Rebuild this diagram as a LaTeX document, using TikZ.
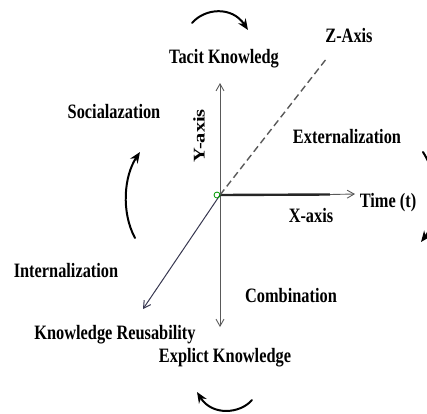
\documentclass[tikz,border=0pt]{standalone}
\usepackage{fontspec}
\setmainfont{Liberation Serif}
\usetikzlibrary{arrows.meta}
\newcommand\cond[1]{\scalebox{0.8}[1]{#1}}
\definecolor{diagc}{RGB}{55,55,80}
\tikzset{
  lbl/.style={font=\fontsize{20.5}{24}\selectfont\bfseries, inner sep=0pt, anchor=base},
  axisline/.style={draw=black!65, line width=0.9pt},
  tipopen/.style={-{Straight Barb[length=7pt,width=8pt]}},
  turn/.style={draw=black, line width=2pt, line cap=round, -{Stealth[length=11pt,width=9pt]}}
}
\begin{document}
\begin{tikzpicture}[x=1bp,y=-1bp]
\useasboundingbox (0,0) rectangle (427,414);
\clip (0,0) rectangle (427,414);
% axis points
\coordinate (O) at (220,195);
\coordinate (ytop) at (220,83);
\coordinate (ybot) at (220,327);
\coordinate (xend) at (355,194);
\coordinate (zend) at (327,58);
\coordinate (dend) at (143,309);
% axes
\draw[axisline, tipopen] (O) -- (ytop);
\draw[axisline, tipopen] (O) -- (ybot);
\draw[draw=black!85, line width=2.4pt] (O) -- (330,194.5) coordinate (xmid);
\draw[axisline, tipopen] (xmid) -- (xend);
\draw[draw=black!65, line width=1.4pt, dash pattern=on 7pt off 4pt] (O) -- (zend);
\draw[draw=diagc, line width=1pt, tipopen] (O) -- (dend);
\node[circle, draw=green!60!black, line width=0.8pt, minimum size=6pt, inner sep=0pt] (og) at (217,195) {};
% labels
\node[lbl] (tacit) at (224,63) {\cond{Tacit Knowledg}};
\node[lbl] (zax) at (349,42) {\cond{Z-Axis}};
\node[lbl] (soc) at (114,118) {\cond{Socialazation}};
\node[lbl] (ext) at (347,143) {\cond{Externalization}};
\node[lbl] (time) at (388,207) {\cond{Time (t)}};
\node[lbl] (xax) at (311,222) {\cond{X-axis}};
\node[lbl] (int) at (66,277) {\cond{Internalization}};
\node[lbl] (comb) at (291,302) {\cond{Combination}};
\node[lbl] (reuse) at (115,339) {\cond{Knowledge Reusability}};
\node[lbl] (expl) at (225,362) {\cond{Explict Knowledge}};
\node[font=\fontsize{20.5}{24}\selectfont\bfseries, inner sep=0pt, rotate=90] (yax) at (199,136) {\scalebox{1}[0.8]{Y-axis}};
% rotation arrows
\coordinate (t1) at (192,23); \coordinate (t2) at (248,30);
\draw[turn] (t1) .. controls (205,8) and (232,6) .. (t2);
\coordinate (l1) at (135,238); \coordinate (l2) at (140,152);
\draw[turn] (l1) .. controls (121,212) and (124,176) .. (l2);
\coordinate (b1) at (252,400); \coordinate (b2) at (197,392);
\draw[turn] (b1) .. controls (240,414) and (212,416) .. (b2);
\coordinate (r1) at (423,152); \coordinate (r2) at (421,242);
\draw[turn] (r1) .. controls (442,182) and (438,220) .. (r2);
\end{tikzpicture}
\end{document}
